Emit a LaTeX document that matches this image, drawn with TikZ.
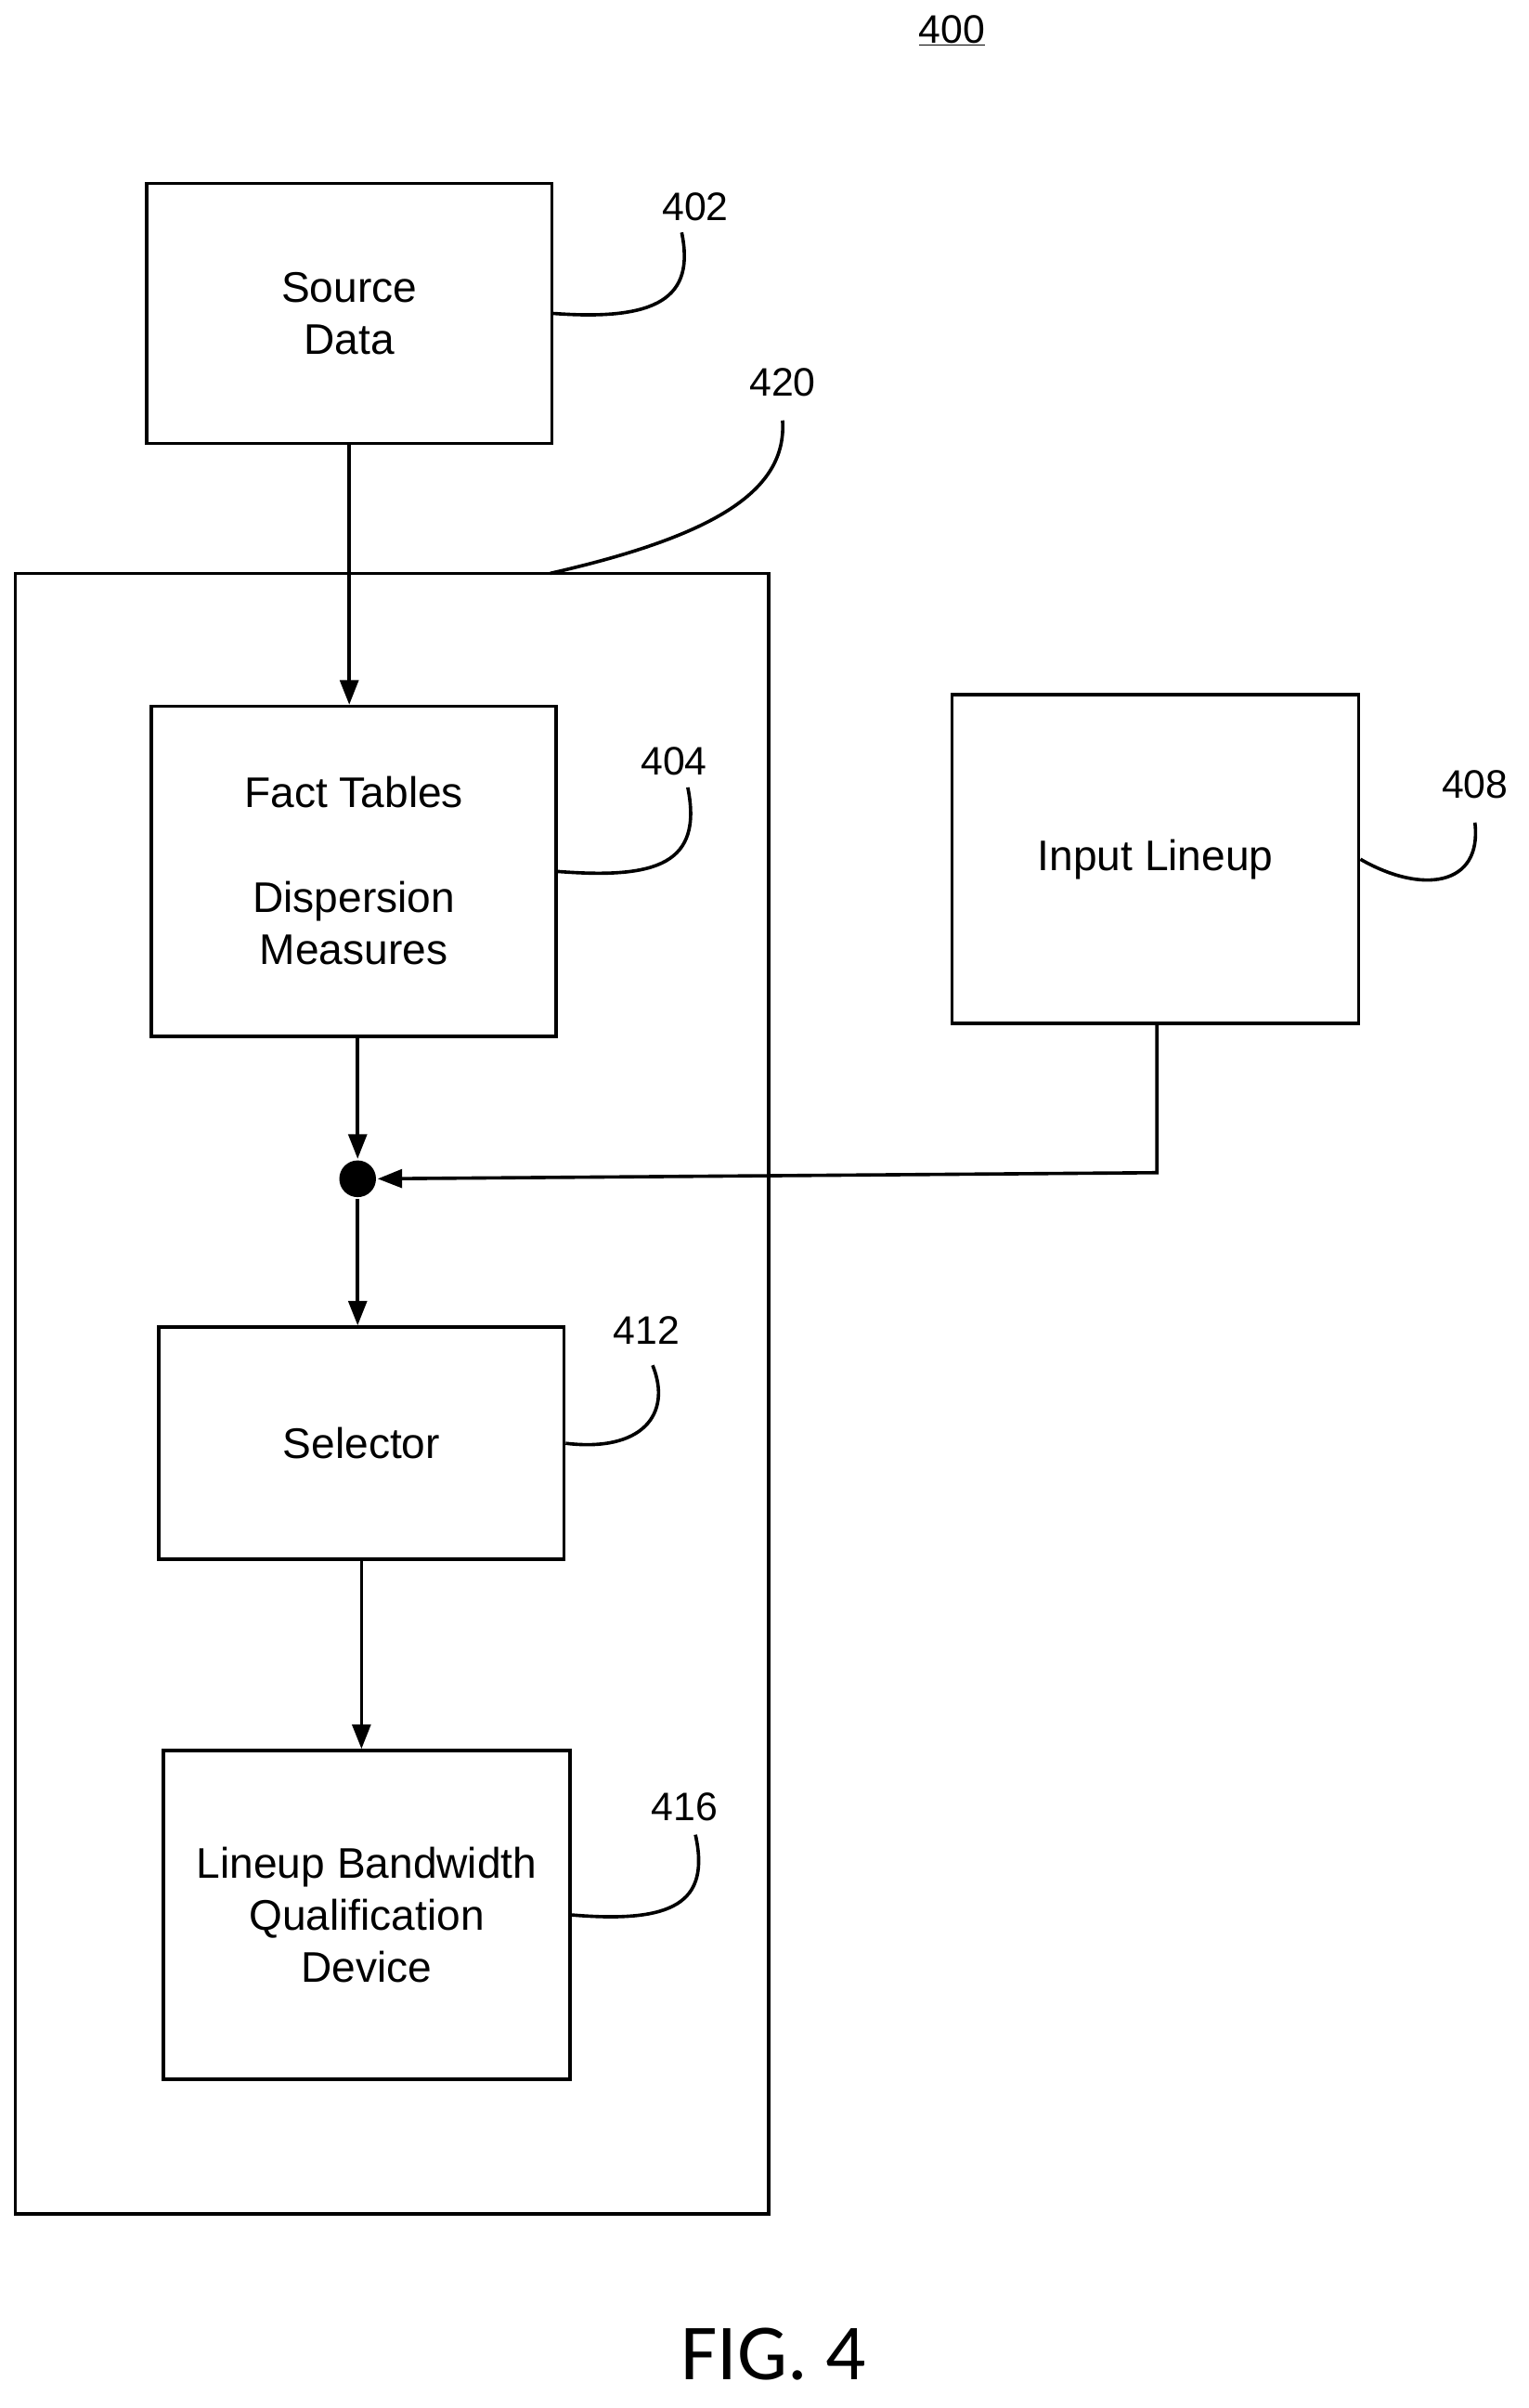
\documentclass[tikz,border=0pt]{standalone}
\usepackage{fontspec}
\setmainfont{Liberation Sans}
\newfontfamily\figfont{Carlito}
\usetikzlibrary{arrows.meta}
\begin{document}
\begin{tikzpicture}[x=1pt,y=-1pt,line width=2.2pt,
  box/.style={draw,inner sep=0,align=center,font=\fontsize{28}{34}\selectfont},
  lbl/.style={font=\fontsize{26}{30}\selectfont},
  arr/.style={-{Triangle[length=16pt,width=12pt]}}]
\useasboundingbox (0,0) rectangle (1000,1575);
\node[lbl] (t400) at (623,20) {\underline{400}};
\node[box,minimum width=265pt,minimum height=170pt] (src) at (228.5,205) {Source\\Data};
\node[lbl] (l402) at (455,135) {402};
\draw (src.east) .. controls (430,210) and (455,195) .. (446,152);
\node[draw,minimum width=493pt,minimum height=1073pt,inner sep=0] (outer) at (256.5,911.5) {};
\node[lbl] (l420) at (512,250) {420};
\draw (360,375) .. controls (470,350) and (515,320) .. (512,275);
\node[box,minimum width=265pt,minimum height=216pt] (fact) at (231.5,570) {};
\node[box,draw=none] (ft) at (231.5,518) {Fact Tables};
\node[box,draw=none] (dm) at (231.5,604) {Dispersion\\Measures};
\node[lbl] (l404) at (441,498) {404};
\draw (fact.east) .. controls (430,575) and (460,565) .. (450,515);
\node[box,minimum width=266pt,minimum height=215pt] (inp) at (756,562) {Input Lineup};
\node[lbl] (l408) at (965,513) {408};
\draw (inp.east) .. controls (930,585) and (970,580) .. (965,538);
\node[circle,fill,inner sep=0,minimum size=24pt] (dot) at (234,771) {};
\draw[arr] (src.south) -- (src.south |- fact.north);
\draw[arr] (fact.south -| dot) -- (dot.north);
\coordinate (c1) at (757,767);
\draw[arr] (inp.south -| c1) -- (c1) -- (dot.east);
\node[box,minimum width=265pt,minimum height=152pt] (sel) at (236.5,944) {Selector};
\node[lbl] (l412) at (423,870) {412};
\draw (sel.east) .. controls (420,950) and (440,925) .. (427,893);
\draw[arr] (dot.south) -- (dot |- sel.north);
\node[box,minimum width=266pt,minimum height=215pt] (lb) at (240,1252.5) {Lineup Bandwidth\\Qualification\\Device};
\node[lbl] (l416) at (448,1182) {416};
\draw (lb.east) .. controls (440,1258) and (465,1245) .. (455,1200);
\draw[arr] (sel.south) -- (sel.south |- lb.north);
\node[font=\figfont\fontsize{52}{52}\selectfont] (fig) at (506,1540) {FIG. 4};
\end{tikzpicture}
\end{document}
